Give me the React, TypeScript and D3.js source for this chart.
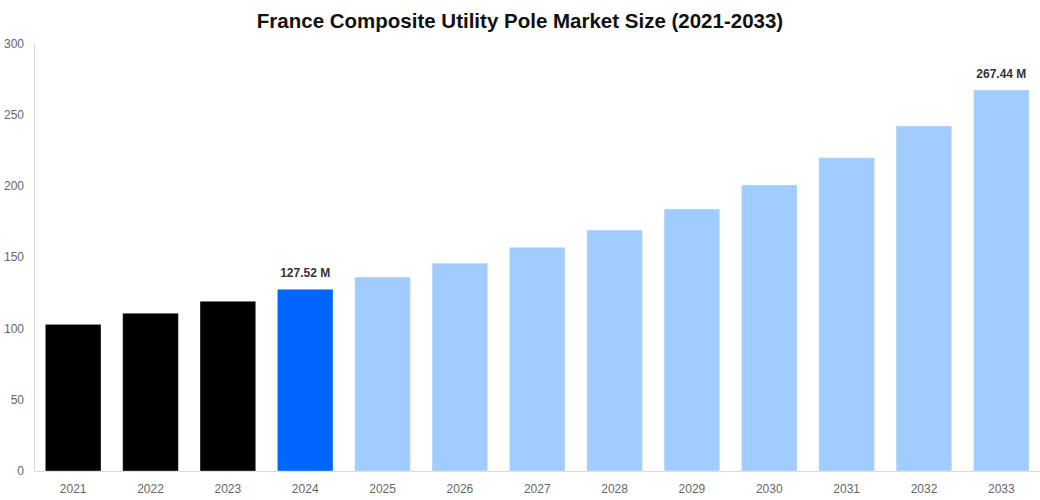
import { useEffect, useRef } from "react";
import * as d3 from "d3";

const years = ["2021", "2022", "2023", "2024", "2025", "2026", "2027", "2028", "2029", "2030", "2031", "2032", "2033"];
const values = [102.9, 110.7, 119.1, 127.52, 136.1, 145.8, 157.0, 169.1, 183.9, 200.7, 219.9, 242.1, 267.44];
const barColors = ["#000000", "#000000", "#000000", "#0066ff", "#a1cdfe", "#a1cdfe", "#a1cdfe", "#a1cdfe", "#a1cdfe", "#a1cdfe", "#a1cdfe", "#a1cdfe", "#a1cdfe"];
const labelled = ["2024", "2033"];
const yTicks = [0, 50, 100, 150, 200, 250, 300];

const W = 1040;
const H = 500;

export default function App(): JSX.Element {
  const ref = useRef<SVGSVGElement | null>(null);

  useEffect(() => {
    if (!ref.current) return;
    const svg = d3.select(ref.current);
    svg.selectAll("*").remove();

    const left = 34.5;
    const right = 1040;
    const top = 43.5;
    const bottom = 471;

    const x = d3.scaleBand<string>().domain(years).range([left, right]).paddingInner(0.28).paddingOuter(0.14);
    const y = d3.scaleLinear().domain([0, 300]).range([bottom, top]);

    const font = "'Liberation Sans', Arial, sans-serif";

    svg
      .append("text")
      .attr("x", W / 2)
      .attr("y", 28)
      .attr("text-anchor", "middle")
      .attr("font-family", font)
      .attr("font-size", 20.5)
      .attr("font-weight", "bold")
      .attr("fill", "#111")
      .text("France Composite Utility Pole Market Size (2021-2033)");

    // axes lines
    svg
      .append("line")
      .attr("x1", left)
      .attr("x2", left)
      .attr("y1", top)
      .attr("y2", bottom)
      .attr("stroke", "#d9d9d9");
    svg
      .append("line")
      .attr("x1", left)
      .attr("x2", right)
      .attr("y1", bottom + 0.5)
      .attr("y2", bottom + 0.5)
      .attr("stroke", "#d9d9d9");

    svg
      .append("g")
      .selectAll("text")
      .data(yTicks)
      .join("text")
      .attr("x", 24)
      .attr("y", (d) => y(d))
      .attr("dy", "0.35em")
      .attr("text-anchor", "end")
      .attr("font-family", font)
      .attr("font-size", 12)
      .attr("fill", "#666")
      .text((d) => d);

    svg
      .append("g")
      .selectAll("rect")
      .data(years)
      .join("rect")
      .attr("x", (d) => x(d)!)
      .attr("width", x.bandwidth())
      .attr("y", (_d, i) => y(values[i]))
      .attr("height", (_d, i) => bottom - y(values[i]))
      .attr("fill", (_d, i) => barColors[i])
      .attr("stroke", "rgba(255,255,255,0.35)")
      .attr("stroke-width", 1);

    svg
      .append("g")
      .selectAll("text")
      .data(years)
      .join("text")
      .attr("x", (d) => x(d)! + x.bandwidth() / 2)
      .attr("y", bottom + 22)
      .attr("text-anchor", "middle")
      .attr("font-family", font)
      .attr("font-size", 12)
      .attr("fill", "#666")
      .text((d) => d);

    svg
      .append("g")
      .selectAll("text")
      .data(years.map((yr, i) => ({ yr, v: values[i] })).filter((d) => labelled.includes(d.yr)))
      .join("text")
      .attr("x", (d) => x(d.yr)! + x.bandwidth() / 2)
      .attr("y", (d) => y(d.v) - 12)
      .attr("text-anchor", "middle")
      .attr("font-family", font)
      .attr("font-size", 12)
      .attr("font-weight", "bold")
      .attr("fill", "#333")
      .text((d) => `${d.v.toFixed(2)} M`);
  }, []);

  return (
    <svg
      ref={ref}
      width={W}
      height={H}
      style={{ position: "absolute", left: 0, top: 0, background: "#fff" }}
    />
  );
}
